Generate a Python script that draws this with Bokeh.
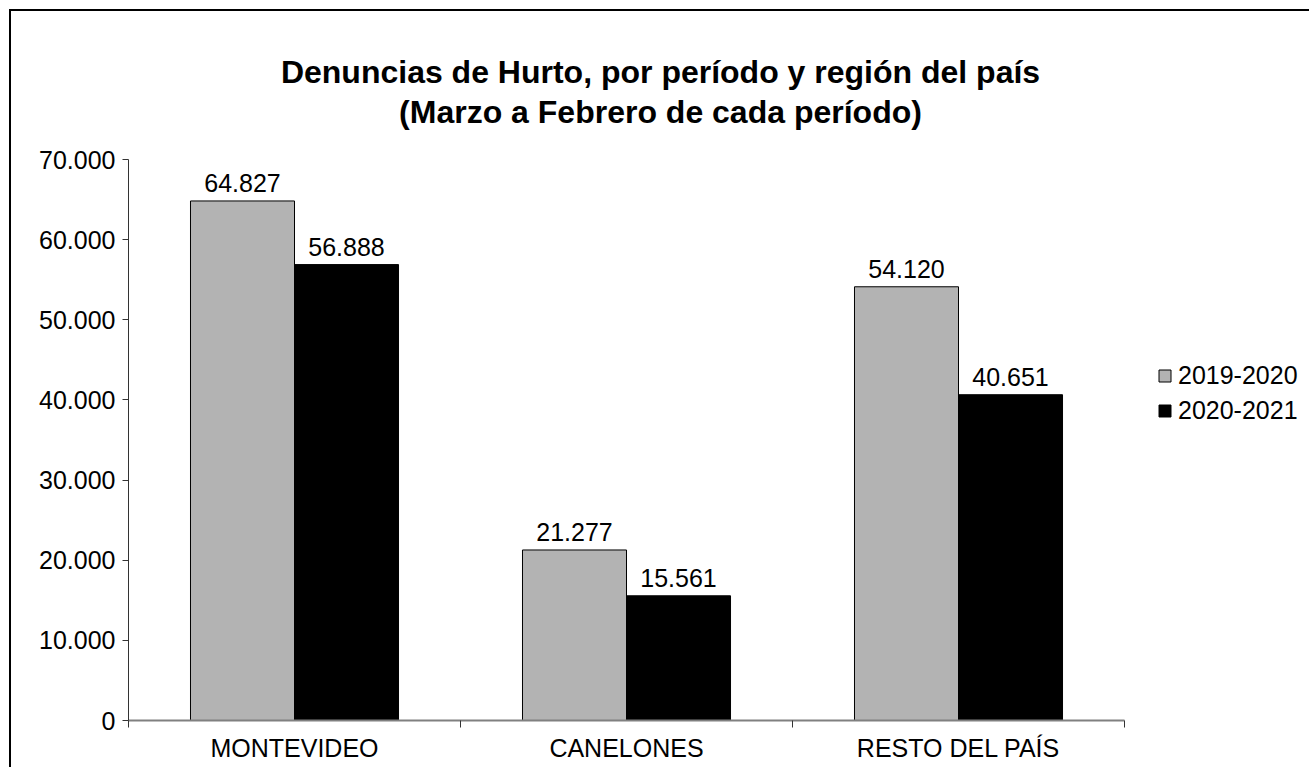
from bokeh.plotting import figure
from bokeh.models import (ColumnDataSource, FixedTicker, Legend, LegendItem,
                          LabelSet, Label, Range1d)
from bokeh.core.properties import value
from bokeh.embed import file_html
from bokeh.resources import INLINE

# ---------------- data ----------------
categories = ["MONTEVIDEO", "CANELONES", "RESTO DEL PAÍS"]
series_names = ["2019-2020", "2020-2021"]
values_2019_2020 = [64827, 21277, 54120]
values_2020_2021 = [56888, 15561, 40651]
y_ticks = [0, 10000, 20000, 30000, 40000, 50000, 60000, 70000]
y_tick_labels = ["0", "10.000", "20.000", "30.000", "40.000", "50.000", "60.000", "70.000"]
title_lines = ["Denuncias de Hurto, por período y región del país",
               "(Marzo a Febrero de cada período)"]

# ---------------- layout / style constants ----------------
FONT = "Liberation Sans"
BAR_W = 0.3133
GRAY = "#b3b3b3"
CANVAS_W, CANVAS_H = 1300, 758
LEFT, BOTTOM = 117, 49            # canvas px reserved for the axes
AXIS_PX_W, AXIS_PX_H = 996, 561   # pixel length of the drawn axes

YMAX = y_ticks[-1]
XMAX = len(categories)
px_x = XMAX / AXIS_PX_W
px_y = YMAX / AXIS_PX_H
frame_w = CANVAS_W - LEFT
frame_h = CANVAS_H - BOTTOM


def fmt(v):
    return f"{v:,}".replace(",", ".")


centers = [i + 0.5 for i in range(len(categories))]
boundaries = list(range(len(categories) + 1))

src1 = ColumnDataSource(dict(x=[c - BAR_W / 2 for c in centers],
                             top=values_2019_2020,
                             label=[fmt(v) for v in values_2019_2020]))
src2 = ColumnDataSource(dict(x=[c + BAR_W / 2 for c in centers],
                             top=values_2020_2021,
                             label=[fmt(v) for v in values_2020_2021]))

p = figure(width=CANVAS_W, height=CANVAS_H,
           x_range=Range1d(0, frame_w * px_x), y_range=Range1d(0, frame_h * px_y),
           output_backend="svg", toolbar_location=None,
           min_border_left=LEFT, min_border_right=0,
           min_border_top=0, min_border_bottom=BOTTOM)
p.styles = {"border-top": "2px solid #000000", "border-left": "2px solid #000000",
            "margin-left": "9px", "margin-top": "9px"}
p.outline_line_color = None
p.xgrid.visible = False
p.ygrid.visible = False
p.background_fill_color = "white"
p.border_fill_color = "white"

r1 = p.vbar(x="x", top="top", width=BAR_W, source=src1,
            fill_color=GRAY, line_color="#000000", line_width=1)
r2 = p.vbar(x="x", top="top", width=BAR_W, source=src2,
            fill_color="#000000", line_color="#000000", line_width=1)

# x axis
xa = p.xaxis[0]
xa.bounds = (0, XMAX)
xa.ticker = FixedTicker(ticks=centers, minor_ticks=boundaries)
xa.major_label_overrides = {c: n for c, n in zip(centers, categories)}
xa.major_tick_out = 0
xa.major_tick_in = 0
xa.minor_tick_out = 7
xa.minor_tick_in = 0
xa.minor_tick_line_color = "#333333"
xa.axis_line_color = "#808080"
xa.axis_line_width = 2
xa.major_label_standoff = 6
xa.major_label_text_font = FONT
xa.major_label_text_font_size = "25px"
xa.major_label_text_color = "#000000"

# y axis
ya = p.yaxis[0]
ya.bounds = (0, YMAX)
ya.ticker = FixedTicker(ticks=y_ticks, minor_ticks=[])
ya.major_label_overrides = {t: l for t, l in zip(y_ticks, y_tick_labels)}
ya.major_tick_out = 6
ya.major_tick_in = 0
ya.minor_tick_out = 0
ya.minor_tick_in = 0
ya.axis_line_color = "#333333"
ya.major_tick_line_color = "#333333"
ya.major_label_standoff = 7
ya.major_label_text_font = FONT
ya.major_label_text_font_size = "25px"
ya.major_label_text_color = "#000000"

# value labels
for src in (src1, src2):
    p.add_layout(LabelSet(x="x", y="top", text="label", source=src,
                          text_align="center", text_baseline="alphabetic",
                          y_offset=9, text_font=value(FONT),
                          text_font_size="25px", text_color="#000000"))

# title (two lines)
title_x = 532 * px_x
for line, above in zip(title_lines, [649, 609]):
    p.add_layout(Label(x=title_x, y=above * px_y,
                       text=line, text_align="center", text_baseline="alphabetic",
                       text_font=FONT, text_font_size="32px",
                       text_font_style="bold", text_color="#000000"))

legend = Legend(items=[LegendItem(label=series_names[0], renderers=[r1]),
                       LegendItem(label=series_names[1], renderers=[r2])],
                location=(1029, 295), padding=0, margin=0,
                border_line_color=None, background_fill_alpha=0,
                glyph_width=15, glyph_height=15, label_standoff=6, spacing=6,
                label_text_font=FONT, label_text_font_size="25px",
                label_text_color="#000000")
p.add_layout(legend, "center")

open("out.html", "w").write(file_html(p, INLINE))
